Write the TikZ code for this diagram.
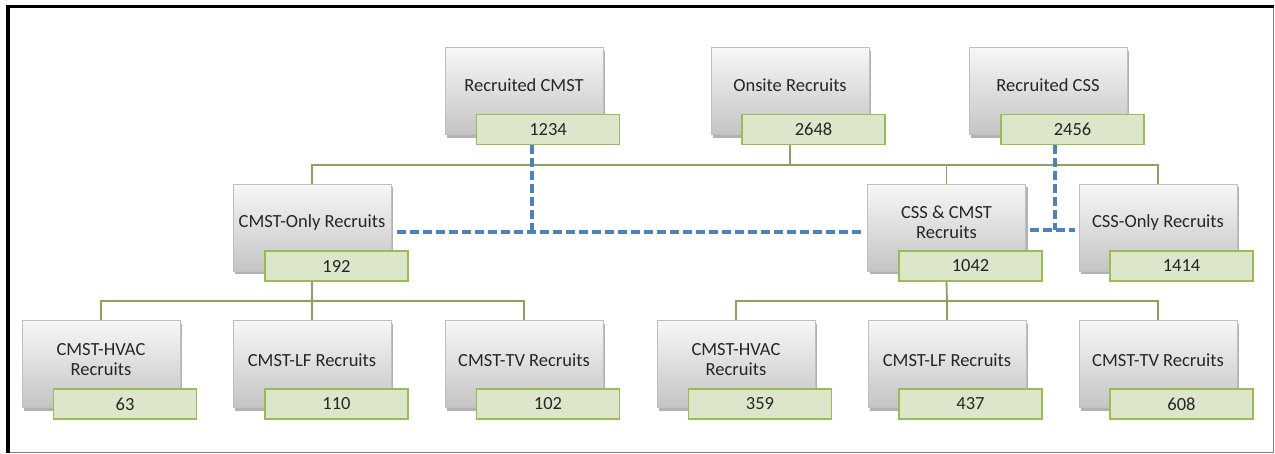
\documentclass[tikz,border=0pt]{standalone}
\usepackage{fontspec}
\setmainfont{Carlito}
\usetikzlibrary{shadows}
\definecolor{boxtop}{HTML}{F7F7F7}
\definecolor{boxbot}{HTML}{C4C4C4}
\definecolor{boxline}{HTML}{BFBFBF}
\definecolor{labfill}{HTML}{DCE6CB}
\definecolor{labline}{HTML}{9BBB59}
\definecolor{connc}{HTML}{8CA35C}
\definecolor{dashc}{HTML}{4F81BD}
\begin{document}
\begin{tikzpicture}[x=1pt,y=-1pt,
  box/.style={rectangle, minimum width=158pt, minimum height=87pt, inner sep=0pt,
    top color=boxtop, bottom color=boxbot, draw=boxline, line width=0.8pt,
    drop shadow={shadow xshift=2pt, shadow yshift=-3pt, opacity=0.3, fill=black}},
  lab/.style={rectangle, minimum width=143pt, minimum height=30pt, inner sep=0pt,
    fill=labfill, draw=labline, line width=1.5pt,
    font=\fontsize{18.5}{20}\selectfont, text=black!85},
  txt/.style={align=center, font=\fontsize{18.5}{20}\selectfont, text=black!85},
  conn/.style={draw=connc, line width=1.8pt},
  dashlink/.style={draw=dashc, line width=3.5pt, dash pattern=on 9pt off 4pt}
]
\useasboundingbox (0,0) rectangle (1275,453);
% frame
\draw[black!50, line width=1pt] (1273,6) -- (1273,452) -- (8,452);
\draw[black, line width=3.5pt] (8,453) -- (8,6.5) -- (1274,6.5);

% top row
\node[box] (rc) at (524,91) {};
\node[txt] at ([yshift=6pt]rc.center) {Recruited CMST};
\node[lab] (rcl) at (548,129.5) {1234};
\node[box] (or) at (790,91) {};
\node[txt] at ([yshift=6pt]or.center) {Onsite Recruits};
\node[lab] (orl) at (813.5,129.5) {2648};
\node[box] (rs) at (1048,91) {};
\node[txt] at ([yshift=6pt]rs.center) {Recruited CSS};
\node[lab] (rsl) at (1072.5,129.5) {2456};

% middle row
\node[box] (co) at (312,227.5) {};
\node[txt] at ([yshift=5pt]co.center) {CMST-Only Recruits};
\node[lab] (col) at (336.5,266) {192};
\node[box] (cc) at (946.5,227.5) {};
\node[txt] at ([yshift=5pt]cc.center) {CSS \& CMST\\Recruits};
\node[lab] (ccl) at (970.5,266) {1042};
\node[box] (so) at (1158,227.5) {};
\node[txt] at ([yshift=5pt]so.center) {CSS-Only Recruits};
\node[lab] (sol) at (1181.5,266) {1414};

% bottom row
\node[box] (h1) at (101,364) {};
\node[txt] at ([yshift=4pt]h1.center) {CMST-HVAC\\Recruits};
\node[lab] (h1l) at (125,404) {63};
\node[box] (l1) at (312,364) {};
\node[txt] at ([yshift=4pt]l1.center) {CMST-LF Recruits};
\node[lab] (l1l) at (336.5,404) {110};
\node[box] (t1) at (524,364) {};
\node[txt] at ([yshift=4pt]t1.center) {CMST-TV Recruits};
\node[lab] (t1l) at (548,404) {102};
\node[box] (h2) at (736,364) {};
\node[txt] at ([yshift=4pt]h2.center) {CMST-HVAC\\Recruits};
\node[lab] (h2l) at (760,404) {359};
\node[box] (l2) at (947,364) {};
\node[txt] at ([yshift=4pt]l2.center) {CMST-LF Recruits};
\node[lab] (l2l) at (970.5,404) {437};
\node[box] (t2) at (1158,364) {};
\node[txt] at ([yshift=4pt]t2.center) {CMST-TV Recruits};
\node[lab] (t2l) at (1181.5,404) {608};

% solid connectors
\coordinate (hub) at (790,165);
\draw[conn] (or.center |- orl.south) -- (hub);
\draw[conn] (hub) -| (co.north);
\draw[conn] (hub) -| (cc.north);
\draw[conn] (hub) -| (so.north);
\coordinate (hubl) at (312,301);
\draw[conn] (co.center |- col.south) -- (hubl);
\draw[conn] (hubl) -| (h1.north);
\draw[conn] (hubl) -- (l1.north);
\draw[conn] (hubl) -| (t1.north);
\coordinate (hubr) at (947,301);
\draw[conn] (cc.center |- ccl.south) -- (hubr);
\draw[conn] (hubr) -| (h2.north);
\draw[conn] (hubr) -- (l2.north);
\draw[conn] (hubr) -| (t2.north);

% dashed connectors
\coordinate (j1) at (532,232);
\draw[dashlink] (rcl.south -| j1) -- (j1);
\draw[dashlink] ([xshift=6pt]co.east |- j1) -- ([xshift=-5pt]cc.west |- j1);
\coordinate (j2) at (1055,230);
\draw[dashlink] (rsl.south -| j2) -- (j2);
\draw[dashlink] ([xshift=4pt]cc.east |- j2) -- ([xshift=-4pt]so.west |- j2);
\end{tikzpicture}
\end{document}
